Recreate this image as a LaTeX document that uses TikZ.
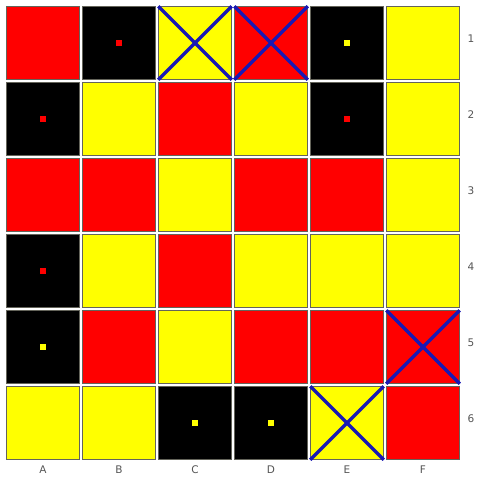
\documentclass[tikz,border=0pt]{standalone}
\usepackage{fontspec}
\setmainfont{DejaVu Sans}
\definecolor{cred}{RGB}{255,0,0}
\definecolor{cyel}{RGB}{255,255,0}
\definecolor{cblk}{RGB}{0,0,0}
\definecolor{cblue}{RGB}{25,25,180}
\definecolor{cedge}{RGB}{100,100,90}
\definecolor{clab}{RGB}{85,85,85}
\begin{document}
\begin{tikzpicture}[x=1pt,y=-1pt,
  cell/.style={rectangle,draw=cedge,line width=0.8pt,minimum size=73.5pt,inner sep=0pt,outer sep=0pt},
  R/.style={cell,fill=cred},
  Y/.style={cell,fill=cyel},
  K/.style={cell,fill=cblk},
  dotR/.style={rectangle,fill=cred,minimum size=6pt,inner sep=0pt},
  dotY/.style={rectangle,fill=cyel,minimum size=6pt,inner sep=0pt},
  cross/.style={draw=cblue,line width=3.2pt},
  lab/.style={font=\fontsize{10.5}{12}\selectfont,text=clab,inner sep=0pt}]
\useasboundingbox (0,0) rectangle (482,480);
\fill[white] (0,0) rectangle (482,480);
% cells: row by row
\foreach \r/\list in {1/{R,K,Y,R,K,Y},2/{K,Y,R,Y,K,Y},3/{R,R,Y,R,R,Y},4/{K,Y,R,Y,Y,Y},5/{K,R,Y,R,R,R},6/{Y,Y,K,K,Y,R}}{
  \foreach \s [count=\c] in \list {
    \node[\s] (c\c-\r) at ({43+76*(\c-1)},{43+76*(\r-1)}) {};
  }
}
% dots
\node[dotR] (d21) at (c2-1) {};
\node[dotY] (d51) at (c5-1) {};
\node[dotR] (d12) at (c1-2) {};
\node[dotR] (d52) at (c5-2) {};
\node[dotR] (d14) at (c1-4) {};
\node[dotY] (d15) at (c1-5) {};
\node[dotY] (d36) at (c3-6) {};
\node[dotY] (d46) at (c4-6) {};
% crosses
\foreach \n in {c3-1,c4-1,c6-5,c5-6}{
  \draw[cross] (\n.north west) -- (\n.south east);
  \draw[cross] (\n.north east) -- (\n.south west);
}
% labels
\foreach \t [count=\i] in {1,2,3,4,5,6}{
  \node[lab] (r\i) at (471,{39+76*(\i-1)}) {\t};
}
\foreach \t [count=\i] in {A,B,C,D,E,F}{
  \node[lab] (l\i) at ({43+76*(\i-1)},470) {\t};
}
\end{tikzpicture}
\end{document}
